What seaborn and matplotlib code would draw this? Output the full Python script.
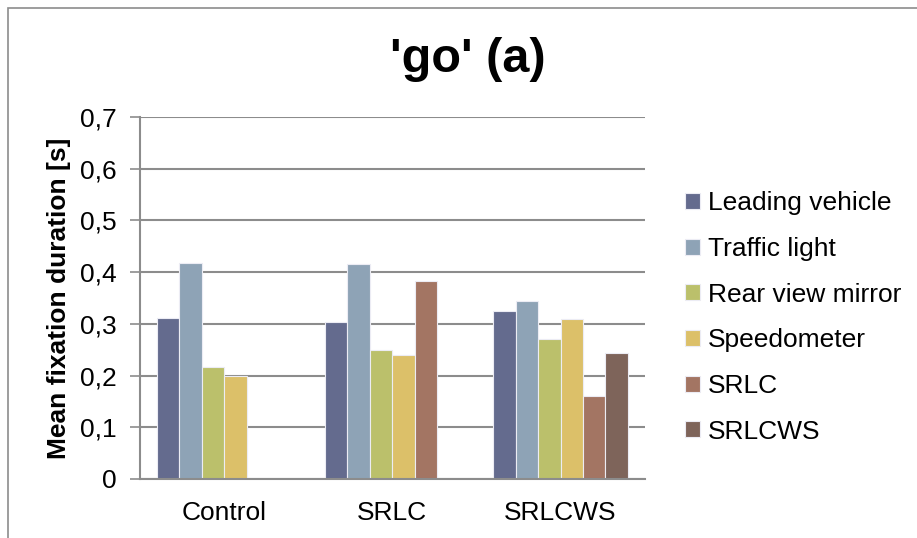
import matplotlib
matplotlib.use("Agg")
import matplotlib.pyplot as plt
import seaborn as sns
import pandas as pd
from matplotlib.patches import Rectangle
from matplotlib.ticker import FuncFormatter

conditions = ["Control", "SRLC", "SRLCWS"]
aois = ["Leading vehicle", "Traffic light", "Rear view mirror",
        "Speedometer", "SRLC", "SRLCWS"]
colors = ["#646b8e", "#8ea3b6", "#bbc06b", "#dcc069", "#a37563", "#7e645a"]

control_vals = [0.311, 0.417, 0.216, 0.200]
srlc_vals = [0.303, 0.415, 0.250, 0.239, 0.382]
srlcws_vals = [0.325, 0.344, 0.270, 0.310, 0.161, 0.243]

rows = []
for cond, vals in zip(conditions, [control_vals, srlc_vals, srlcws_vals]):
    for aoi, v in zip(aois, vals):
        rows.append({"condition": cond, "aoi": aoi, "value": v})
df = pd.DataFrame(rows)

sns.set_style("white")
plt.rcParams['font.family'] = ['Liberation Sans', 'DejaVu Sans']
plt.rcParams['text.color'] = 'black'
plt.rcParams['axes.labelcolor'] = 'black'
plt.rcParams['xtick.color'] = 'black'
plt.rcParams['ytick.color'] = 'black'

fig = plt.figure(figsize=(9.17, 5.38), dpi=100)
ax = fig.add_axes([0.1527, 0.1097, 0.5503, 0.6728])

sns.barplot(data=df, x="condition", y="value", hue="aoi", order=conditions,
            hue_order=aois, palette=colors, width=0.8, saturation=1,
            edgecolor="#ececf4", linewidth=0.8, ax=ax)

ax.set_ylim(0, 0.7)
ax.set_yticks([i / 10 for i in range(8)])
ax.yaxis.set_major_formatter(FuncFormatter(lambda v, p: "0" if v == 0 else f"{v:.1f}".replace(".", ",")))
ax.grid(axis="y", color="#8c8c8c", linewidth=1.5)
ax.set_axisbelow(True)
for s in ["top", "right"]:
    ax.spines[s].set_visible(False)
for s in ["left", "bottom"]:
    ax.spines[s].set_color("#8c8c8c")
    ax.spines[s].set_linewidth(1.5)
ax.tick_params(axis="y", left=True, length=7, width=1.2, color="#8c8c8c",
               labelsize=19, pad=10)
ax.tick_params(axis="x", bottom=False, labelsize=19, pad=12)
ax.set_xlabel("")
ax.set_ylabel("Mean fixation duration [s]", fontsize=19, fontweight="bold", labelpad=6)

fig.text(0.51, 0.89, "'go' (a)", fontsize=35, fontweight="bold", ha="center", va="center")

leg = ax.legend(loc="center left", bbox_to_anchor=(1.06, 0.446), frameon=False,
                fontsize=19, handlelength=0.55, handleheight=0.55,
                handletextpad=0.3, labelspacing=0.82, borderaxespad=0)

fig.patches.append(Rectangle((8 / 917, -0.1), 1.2, 1 - 8 / 538 + 0.1,
                             transform=fig.transFigure, fill=False,
                             edgecolor="#8c8c8c", linewidth=1.2))

fig.savefig("out.png", dpi=100)
